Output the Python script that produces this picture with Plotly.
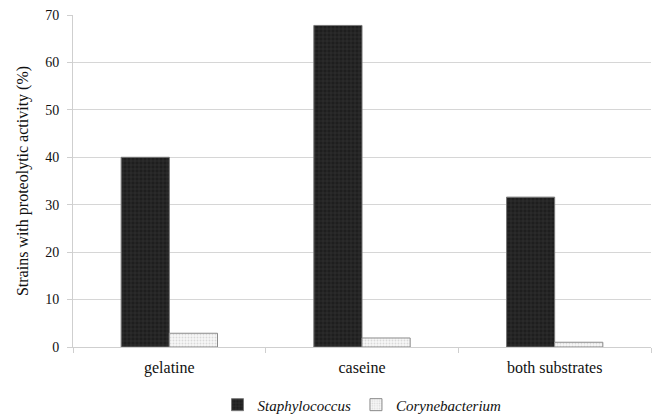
import plotly.graph_objects as go

categories = ["gelatine", "caseine", "both substrates"]
staph = [40.0, 67.8, 31.6]
coryne = [2.9, 1.9, 1.0]
y_ticks = [0, 10, 20, 30, 40, 50, 60, 70]

FONT = "Liberation Serif"

fig = go.Figure()
fig.add_trace(go.Bar(
    x=categories, y=staph, name="<i>Staphylococcus</i>",
    marker=dict(color="#1e1e1e",
                line=dict(color="#777777", width=1),
                pattern=dict(shape="+", fgcolor="#4a4a4a", bgcolor="#1e1e1e",
                             size=4, solidity=0.3)),
))
fig.add_trace(go.Bar(
    x=categories, y=coryne, name="<i>Corynebacterium</i>",
    marker=dict(color="#f2f2f2",
                line=dict(color="#8a8a8a", width=1),
                pattern=dict(shape=".", fgcolor="#bbbbbb", bgcolor="#f7f7f7",
                             size=3, solidity=0.3)),
))

fig.update_layout(
    width=653, height=417,
    margin=dict(l=73, r=2, t=15, b=70),
    paper_bgcolor="white", plot_bgcolor="white",
    barmode="group", bargap=0.5, bargroupgap=0,
    font=dict(family=FONT, size=15, color="#111111"),
    showlegend=True,
    legend=dict(orientation="h", xref="paper", yref="container",
                x=0.5, xanchor="center", y=0.029, yanchor="middle",
                font=dict(family=FONT, size=15), itemwidth=30,
                traceorder="normal"),
)
fig.update_xaxes(
    showline=True, linecolor="#cfcfcf", linewidth=1,
    ticks="outside", tickson="boundaries", ticklen=5, tickcolor="#cfcfcf",
    tickfont=dict(family=FONT, size=16), showgrid=False,
    ticklabelstandoff=6,
)
fig.update_yaxes(
    range=[0, 70], tickvals=y_ticks,
    showline=True, linecolor="#cfcfcf", linewidth=1,
    ticks="outside", ticklen=5, tickcolor="#cfcfcf",
    showgrid=True, gridcolor="#d6d6d6", gridwidth=1,
    zeroline=False,
    tickfont=dict(family=FONT, size=14),
    ticklabelstandoff=5, ticklabeloverflow="allow",
    title=dict(text="Strains with proteolytic activity (%)",
               font=dict(family=FONT, size=16), standoff=12),
)

fig.write_html("out.html",
               config={"displayModeBar": False},
               post_script="document.body.style.margin='0';document.body.style.padding='0';")
